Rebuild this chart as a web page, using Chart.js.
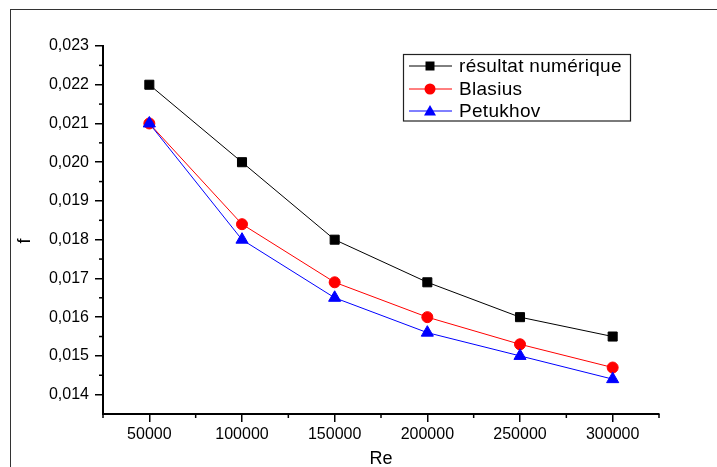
<!DOCTYPE html>
<html>
<head>
<meta charset="utf-8">
<script src="https://cdn.jsdelivr.net/npm/chart.js"></script>
<style>
  body { margin: 0; background: #fff; overflow: hidden; }
  #wrap { position: relative; width: 717px; height: 467px; overflow: hidden; }
  #frame { position: absolute; left: 10px; top: 9px; width: 720px; height: 480px;
           border-left: 1px solid #333; border-top: 1px solid #333; }
  canvas { position: absolute; left: 0; top: 0; }
</style>
</head>
<body>
<div id="wrap">
  <div id="frame"></div>
  <canvas id="chart" width="717" height="470"></canvas>
</div>
<script>
const reValues = [50000, 100000, 150000, 200000, 250000, 300000];
const fNumerique = [0.0220, 0.0200, 0.0180, 0.0169, 0.0160, 0.0155];
const fBlasius = [0.0210, 0.0184, 0.0169, 0.0160, 0.0153, 0.0147];
const fPetukhov = [0.0210, 0.0180, 0.0165, 0.0156, 0.0150, 0.0144];

const seriesNames = ['résultat numérique', 'Blasius', 'Petukhov'];
const seriesColors = ['#000000', '#ff0000', '#0000ff'];

const xTicks = [50000, 100000, 150000, 200000, 250000, 300000];
const yTicks = [0.014, 0.015, 0.016, 0.017, 0.018, 0.019, 0.020, 0.021, 0.022, 0.023];

const FONT = "'Liberation Sans', Arial, sans-serif";
Chart.defaults.font.family = FONT;
Chart.defaults.color = '#000';

function points(ys) {
    return reValues.map((x, i) => ({ x: x, y: ys[i] }));
}

// minor ticks halfway between the labelled ones, plus the axis ends
const minorTicks = {
    id: 'minorTicks',
    afterDraw(chart) {
        const ctx = chart.ctx;
        const xs = chart.scales.x, ys = chart.scales.y;
        ctx.save();
        ctx.strokeStyle = '#000';
        ctx.lineWidth = 1.5;
        const xm = [xs.min];
        for (let i = 0; i < xTicks.length - 1; i++) xm.push((xTicks[i] + xTicks[i + 1]) / 2);
        xm.push(xs.max);
        xm.forEach(v => {
            const p = xs.getPixelForValue(v);
            ctx.beginPath();
            ctx.moveTo(p, xs.top);
            ctx.lineTo(p, xs.top + 4);
            ctx.stroke();
        });
        for (let i = 0; i < yTicks.length - 1; i++) {
            const p = ys.getPixelForValue((yTicks[i] + yTicks[i + 1]) / 2);
            ctx.beginPath();
            ctx.moveTo(ys.right, p);
            ctx.lineTo(ys.right - 4, p);
            ctx.stroke();
        }
        // y axis title sits a bit below the axis middle in the original
        ctx.translate(25, 241);
        ctx.rotate(-Math.PI / 2);
        ctx.font = '18px ' + FONT;
        ctx.fillStyle = '#000';
        ctx.textAlign = 'center';
        ctx.textBaseline = 'middle';
        ctx.fillText('f', 0, 0);
        ctx.restore();
    }
};

function marker(ctx, style, x, y, color) {
    ctx.fillStyle = color;
    ctx.beginPath();
    if (style === 'rect') {
        ctx.rect(x - 4.5, y - 4.5, 9, 9);
    } else if (style === 'circle') {
        ctx.arc(x, y, 5.5, 0, Math.PI * 2);
    } else {
        ctx.moveTo(x, y - 6);
        ctx.lineTo(x + 6, y + 4.5);
        ctx.lineTo(x - 6, y + 4.5);
        ctx.closePath();
    }
    ctx.fill();
}

// legend box inside the plot, top right
const boxLegend = {
    id: 'boxLegend',
    afterDraw(chart) {
        const ctx = chart.ctx;
        const left = 403.5, top = 54.5, right = 630.5, bottom = 121;
        ctx.save();
        ctx.strokeStyle = '#222';
        ctx.lineWidth = 1.2;
        ctx.strokeRect(left, top, right - left, bottom - top);
        const styles = ['rect', 'circle', 'triangle'];
        const rows = [66, 89, 111];
        ctx.font = '19px ' + FONT;
        ctx.letterSpacing = '0.3px';
        ctx.textBaseline = 'middle';
        seriesNames.forEach((name, i) => {
            const y = rows[i];
            ctx.strokeStyle = seriesColors[i];
            ctx.lineWidth = 1;
            ctx.beginPath();
            ctx.moveTo(409, y);
            ctx.lineTo(452, y);
            ctx.stroke();
            marker(ctx, styles[i], 430, y, seriesColors[i]);
            ctx.fillStyle = '#000';
            ctx.fillText(name, 459, y + 1);
        });
        ctx.restore();
    }
};

new Chart(document.getElementById('chart'), {
    type: 'line',
    data: {
        datasets: [
            {
                label: seriesNames[0],
                data: points(fNumerique),
                borderColor: seriesColors[0],
                backgroundColor: seriesColors[0],
                borderWidth: 1,
                pointStyle: 'rect',
                pointRadius: 6.4,
                order: 2
            },
            {
                label: seriesNames[1],
                data: points(fBlasius),
                borderColor: seriesColors[1],
                backgroundColor: seriesColors[1],
                borderWidth: 1,
                pointStyle: 'circle',
                pointRadius: 5.5,
                order: 1
            },
            {
                label: seriesNames[2],
                data: points(fPetukhov),
                borderColor: seriesColors[2],
                backgroundColor: seriesColors[2],
                borderWidth: 1,
                pointStyle: 'triangle',
                pointRadius: 7,
                order: 0
            }
        ]
    },
    options: {
        responsive: false,
        animation: false,
        layout: { padding: { left: 0, top: 46, right: 58, bottom: 0 } },
        plugins: {
            legend: { display: false },
            tooltip: { enabled: false }
        },
        scales: {
            x: {
                type: 'linear',
                min: 25000,
                max: 325000,
                afterFit: s => { s.height = 56; },
                afterBuildTicks: s => { s.ticks = xTicks.map(v => ({ value: v })); },
                border: { color: '#000', width: 2 },
                grid: { drawOnChartArea: false, tickLength: 8, tickColor: '#000', lineWidth: 1.5 },
                ticks: { font: { size: 16 }, padding: 3, maxRotation: 0, callback: v => String(v) },
                title: { display: true, text: 'Re', font: { size: 18 }, padding: { top: 0, bottom: 0 } }
            },
            y: {
                type: 'linear',
                min: 0.0135,
                max: 0.023,
                afterFit: s => { s.width = 103; },
                afterBuildTicks: s => { s.ticks = yTicks.map(v => ({ value: v })); },
                border: { color: '#000', width: 2 },
                grid: { drawOnChartArea: false, tickLength: 8, tickColor: '#000', lineWidth: 1.5 },
                ticks: { font: { size: 16 }, padding: 6, callback: v => v.toFixed(3).replace('.', ',') },
                title: { display: false }
            }
        }
    },
    plugins: [minorTicks, boxLegend]
});
</script>
</body>
</html>
